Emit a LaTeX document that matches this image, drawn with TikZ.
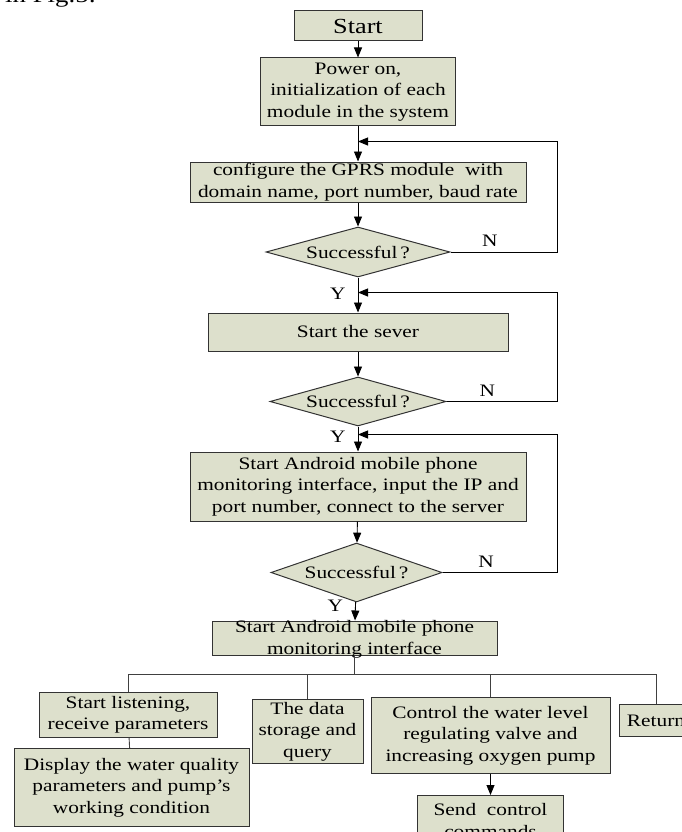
\documentclass[tikz,border=0pt]{standalone}
\usepackage{fontspec}
\setmainfont[FakeStretch=1.22]{Liberation Serif}
\usetikzlibrary{shapes, arrows.meta, positioning}
\definecolor{boxfill}{RGB}{221,224,204}

\begin{document}
\begin{tikzpicture}[
x=1pt, y=-1pt,
txt/.style={font=\fontsize{17.5}{21.5}\selectfont},
block/.style={rectangle, txt, align=center, draw=black!80, fill=boxfill,
    line width=1pt, inner sep=1pt},
block-start/.style={block, font=\fontsize{21.5}{26}\selectfont},
decision/.style={diamond, aspect=3.5, txt, draw=black!80, fill=boxfill,
    line width=1pt, inner sep=0pt},
line/.style={draw, line width=0.9pt, -{Triangle[length=10pt, width=8pt]}},
link/.style={draw, line width=0.9pt, black!75},
yn/.style={txt, inner sep=2pt}
]

\useasboundingbox (0,0) rectangle (681,832);

\node [anchor=base west, font=\fontsize{22}{26}\selectfont, inner sep=0pt] (fig-ref) at (5,2.5) {in Fig.5:};

\node [block-start, minimum width=128pt, minimum height=30pt] (start) at (358,26) {Start};
\node [block, below=16pt of start, minimum width=195pt, minimum height=68pt] (power) {Power on,\\ initialization of each\\ module in the system};
\node [block, below=35pt of power, minimum width=336pt, minimum height=40pt] (gprs) {configure the GPRS module\ \ with\\ domain name, port number, baud rate};
\node [decision, below=24pt of gprs, minimum width=184pt, minimum height=50pt] (ok-gprs) {Successful\,?};
\node [block, below=35pt of ok-gprs, minimum width=300pt, minimum height=38pt] (server) {Start the sever};
\node [decision, below=25pt of server, minimum width=176pt, minimum height=49pt] (ok-server) {Successful\,?};
\node [block, below=25pt of ok-server, minimum width=336pt, minimum height=69pt] (phone) {Start Android mobile phone\\ monitoring interface, input the IP and\\ port number, connect to the server};
\node [decision, below=21pt of phone, xshift=-1.5pt, minimum width=171pt, minimum height=59pt] (ok-phone) {Successful\,?};
\node [block, below=18pt of ok-phone, xshift=-2pt, minimum width=285pt, text height=32pt, text depth=0pt] (monitor) {Start Android mobile phone\\ monitoring interface};

\node [block, anchor=north, minimum width=178pt, minimum height=45pt] (listen) at (128,692) {Start listening,\\ receive parameters};
\node [block, below=10pt of listen, xshift=3.5pt, minimum width=235pt, minimum height=78pt] (display) {Display the water quality\\ parameters and pump's\\ working condition};
\node [block, anchor=north, minimum width=111pt, minimum height=64pt] (storage) at (307.5,699) {The data\\ storage and\\ query};
\node [block, anchor=north, minimum width=239pt, minimum height=76pt] (control) at (490.5,697) {Control the water level\\ regulating valve and\\ increasing oxygen pump};
\node [block, anchor=north, minimum width=74pt, minimum height=32pt] (back) at (656,704) {Return};
\node [block, below=21pt of control, minimum width=146pt, minimum height=50pt] (send) {Send\ \ control\\ commands};

\coordinate (rail) at (557,0);
\coordinate (join1) at ([yshift=-15pt]power.south);
\coordinate (join2) at ([yshift=-15pt]ok-gprs.south);
\coordinate (join3) at ([yshift=-8pt]ok-server.south);
\coordinate (bus) at ([yshift=-19pt]monitor.south);

\draw [line] (start) -- (power);
\draw [line] (power) -- (gprs);
\draw [line] (gprs) -- (ok-gprs);
\draw [line] (ok-gprs) -- node [yn, pos=0.46, left, xshift=-10pt] {Y} (server);
\draw [line] (ok-gprs.east) -- node [yn, above, pos=0.37, yshift=3pt] {N} (ok-gprs.east -| rail) |- (join1);
\draw [line] (server) -- (ok-server);
\draw [line] (ok-server) -- node [yn, pos=0.4, left, xshift=-10pt] {Y} (phone);
\draw [line] (ok-server.east) -- node [yn, above, pos=0.37, yshift=3pt] {N} (ok-server.east -| rail) |- (join2);
\draw [line] (phone) -- (ok-phone);
\draw [line] (ok-phone) -- node [yn, pos=0.2, left, xshift=-10pt] {Y} (monitor);
\draw [line] (ok-phone.east) -- node [yn, above, pos=0.38, yshift=3pt] {N} (ok-phone.east -| rail) |- (join3);

\draw [link] (monitor) -- (bus);
\draw [link] (listen.north) |- (bus);
\draw [link] (back.north) |- (bus);
\draw [link] (storage.north) -- (storage.north |- bus);
\draw [link] (control.north) -- (control.north |- bus);
\draw [link] (listen) -- (display);
\draw [line] (control) -- (send);
\end{tikzpicture}
\end{document}
